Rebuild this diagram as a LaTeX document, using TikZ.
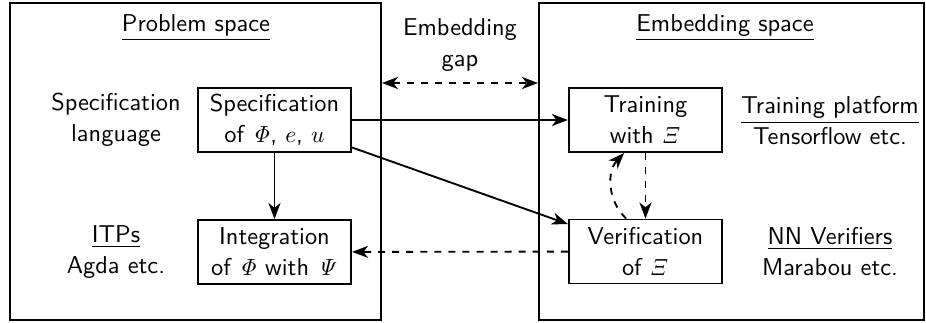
\documentclass[tikz,border=0pt]{standalone}
\usepackage{amsmath}
\usetikzlibrary{arrows.meta}

\begin{document}
\begin{tikzpicture}[x=0.15mm,y=-0.15mm,font=\sffamily\fontsize{10.4pt}{13.2pt}\selectfont,thick,>={Stealth[length=2.4mm,width=1.8mm,inset=0.7mm]},
	space/.style={draw,minimum width=#1,minimum height=4.755cm,inner sep=0pt},
	stage/.style={draw,minimum width=2.3cm,minimum height=0.96cm,align=center,inner sep=1pt},
	label/.style={align=center,inner sep=0pt}]
	\useasboundingbox (0,0) rectangle (926,322);
	\node [space=5.565cm] (prob) at (195.5,161.5) {};
	\node [space=5.775cm] (emb) at (731.5,161.5) {};
	\node [label] (probtitle) at (196,28) {\underline{Problem space}};
	\node [label] (embtitle) at (725,28) {\underline{Embedding space}};
	\node [label] (gap) at (460,45) {Embedding\\gap};
	\coordinate (gapy) at (460,83);
	\draw [<->,dashed] (prob.east |- gapy) -- (emb.west |- gapy);
	\node [stage] (spec) at (274.5,120) {Specification\\of $\mathit{\Phi}$, $e$, $u$};
	\node [stage] (integ) at (274.5,252) {Integration\\of $\mathit{\Phi}$ with $\mathit{\Psi}$};
	\node [stage] (train) at (645.5,120) {Training\\with $\mathit{\Xi}$};
	\node [stage] (verif) at (645.5,251.5) {Verification\\of $\mathit{\Xi}$};
	\node [label] (speclang) at (116,120) {Specification\\language};
	\node [label] (itps) at (116,252) {\underline{ITPs}\\Agda etc.};
	\node [label] (platform) at (830,121) {\underline{Training platform}\\Tensorflow etc.};
	\node [label] (verifiers) at (830,252) {\underline{NN Verifiers}\\Marabou etc.};
	\draw [->] (spec) -- (train);
	\draw [->] (spec) -- (verif);
	\draw [->] (spec) -- (integ);
	\draw [->,dashed] (verif) -- (integ);
	\draw [->,dashed] (train) -- (verif);
	\draw [->,dashed] ([xshift=-2.9mm]verif.north) to [bend left=45] ([xshift=-3.2mm]train.south);
\end{tikzpicture}
\end{document}
